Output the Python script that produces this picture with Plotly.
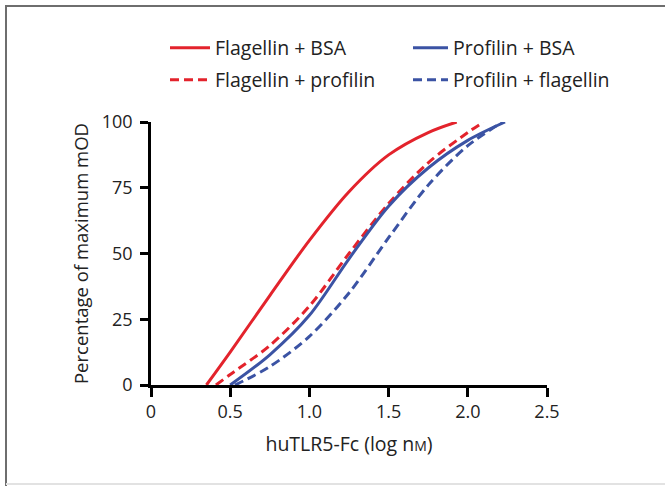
import plotly.graph_objects as go

# Data
flag_bsa_x = [0.35, 0.50, 0.75, 1.00, 1.25, 1.50, 1.75, 1.93]
flag_bsa_y = [0, 12.5, 34, 55, 73.5, 87.5, 96, 100]

flag_prof_x = [0.41, 0.50, 0.75, 1.00, 1.25, 1.50, 1.75, 2.00, 2.10]
flag_prof_y = [0, 4, 15, 30, 50, 69, 84.5, 96, 100]

prof_bsa_x = [0.50, 0.75, 1.00, 1.25, 1.50, 1.75, 2.00, 2.235]
prof_bsa_y = [0, 11.5, 26.5, 48, 68, 82.5, 93, 100]

prof_flag_x = [0.53, 0.75, 1.00, 1.25, 1.50, 1.75, 2.00, 2.22]
prof_flag_y = [0, 7, 18.5, 35, 56, 76, 91, 100]

x_ticks = [0, 0.5, 1.0, 1.5, 2.0, 2.5]
x_ticklabels = ["0", "0.5", "1.0", "1.5", "2.0", "2.5"]
y_ticks = [0, 25, 50, 75, 100]

RED = "#e3232c"
BLUE = "#3b53a4"
DASH = "9px,5px"
TXT = "#222222"
FAM = "Open Sans, DejaVu Sans, sans-serif"

W, H = 665, 486
L, R, T, B = 151, 118, 122, 101
PW, PH = W - L - R, H - T - B

def px2paper_x(px):
    return (px - L) / PW

def px2paper_y(py):
    return (H - B - py) / PH

fig = go.Figure()
fig.add_trace(go.Scatter(x=flag_bsa_x, y=flag_bsa_y, mode="lines", name="Flagellin + BSA", legend="legend",
                         line=dict(color=RED, width=3, shape="spline", smoothing=0.9)))
fig.add_trace(go.Scatter(x=flag_prof_x, y=flag_prof_y, mode="lines", name="Flagellin + profilin", legend="legend2",
                         line=dict(color=RED, width=3, dash=DASH, shape="spline", smoothing=0.9)))
fig.add_trace(go.Scatter(x=prof_bsa_x, y=prof_bsa_y, mode="lines", name="Profilin + BSA", legend="legend3",
                         line=dict(color=BLUE, width=3, shape="spline", smoothing=0.9)))
fig.add_trace(go.Scatter(x=prof_flag_x, y=prof_flag_y, mode="lines", name="Profilin + flagellin", legend="legend4",
                         line=dict(color=BLUE, width=3, dash=DASH, shape="spline", smoothing=0.9)))

def leg(xpx, ypx, iw):
    return dict(x=px2paper_x(xpx), y=px2paper_y(ypx), xanchor="left", yanchor="middle",
                itemwidth=iw, font=dict(family=FAM, size=19.5, color=TXT), bgcolor="rgba(0,0,0,0)")

fig.update_layout(
    width=W, height=H,
    margin=dict(l=L, r=R, t=T, b=B),
    paper_bgcolor="white", plot_bgcolor="white",
    font=dict(family=FAM, size=18, color=TXT),
    showlegend=True,
    legend=leg(165, 48, 40),
    legend2=leg(165, 80, 40),
    legend3=leg(408, 48, 35),
    legend4=leg(408, 80, 35),
    xaxis=dict(range=[0, 2.5], tickvals=x_ticks, ticktext=x_ticklabels, showgrid=False, zeroline=False,
               showline=True, linecolor="black", linewidth=2.5, ticks="outside", ticklen=9,
               tickwidth=2.5, tickcolor="black", tickfont=dict(family=FAM, size=18, color=TXT),
               title=dict(text="huTLR5-Fc (log n<span style='font-size:14px'>M</span>)", standoff=16,
                          font=dict(family=FAM, size=19.5, color=TXT))),
    yaxis=dict(range=[0, 100], tickvals=y_ticks, showgrid=False, zeroline=False,
               showline=True, linecolor="black", linewidth=2.5, ticks="outside", ticklen=8,
               tickwidth=2.5, tickcolor="black", tickfont=dict(family=FAM, size=18, color=TXT),
               ticklabelstandoff=4,
               title=dict(text="Percentage of maximum mOD", standoff=9,
                          font=dict(family=FAM, size=18.5, color=TXT))),
    shapes=[
        dict(type="line", xref="paper", yref="paper", x0=px2paper_x(6), x1=px2paper_x(665),
             y0=px2paper_y(6), y1=px2paper_y(6), line=dict(color="#6e6e6e", width=2)),
        dict(type="line", xref="paper", yref="paper", x0=px2paper_x(6), x1=px2paper_x(6),
             y0=px2paper_y(5), y1=px2paper_y(486), line=dict(color="#6e6e6e", width=2)),
        dict(type="line", xref="paper", yref="paper", x0=px2paper_x(6), x1=px2paper_x(665),
             y0=px2paper_y(484), y1=px2paper_y(484), line=dict(color="#e2e2e2", width=2)),
    ],
)

fig.write_html("out.html", config={"displayModeBar": False},
               post_script="document.body.style.margin='0';")
